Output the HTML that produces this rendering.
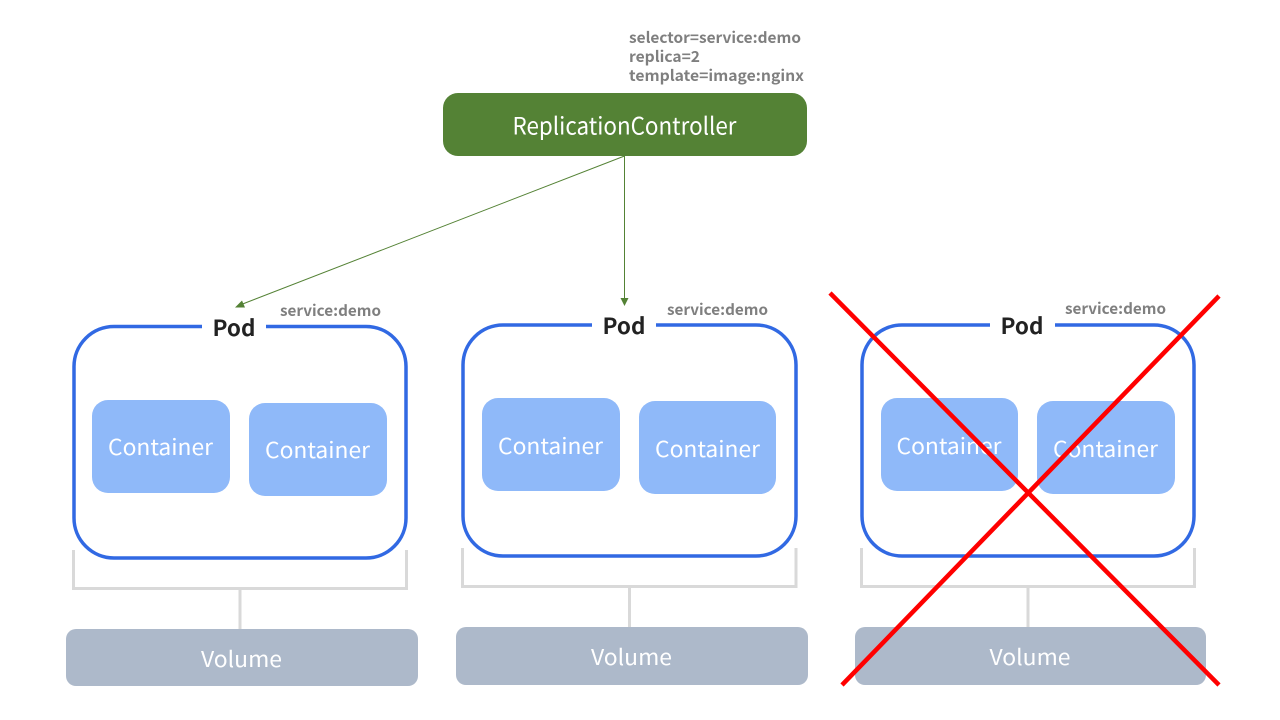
<!DOCTYPE html>
<html>
<head>
<meta charset="utf-8">
<style>
html,body{margin:0;padding:0;background:#fff;width:1280px;height:720px;overflow:hidden}
svg{display:block}
text{font-family:"Noto Sans CJK KR","Liberation Sans",sans-serif}
.meta{font-size:15px;font-weight:700;fill:#7f7f7f}
.pod{font-size:22px;font-weight:700;fill:#222;text-anchor:middle}
.c{font-size:22px;fill:#fff;text-anchor:middle}
.v{font-size:22px;fill:#fff;text-anchor:middle}
.b{fill:none;stroke:#d9d9d9;stroke-width:3}
.p{fill:none;stroke:#3169e3;stroke-width:3.5}
</style>
</head>
<body>
<svg width="1280" height="720" viewBox="0 0 1280 720" xmlns="http://www.w3.org/2000/svg">
<rect width="1280" height="720" fill="#fff"/>

<text class="meta" x="629" y="43" textLength="172" lengthAdjust="spacingAndGlyphs">selector=service:demo</text>
<text class="meta" x="629" y="62" textLength="71" lengthAdjust="spacingAndGlyphs">replica=2</text>
<text class="meta" x="629" y="81" textLength="175" lengthAdjust="spacingAndGlyphs">template=image:nginx</text>

<rect x="443" y="93" width="364" height="63" rx="15" fill="#548235"/>
<text x="624.5" y="134.500" font-size="24" fill="#fff" text-anchor="middle" textLength="224" lengthAdjust="spacingAndGlyphs">ReplicationController</text>

<line x1="624.5" y1="156" x2="240" y2="305" stroke="#548235" stroke-width="1"/>
<polygon points="235,307.5 242,300.5 245,307.5" fill="#548235"/>
<line x1="624.5" y1="156" x2="624.5" y2="299" stroke="#548235" stroke-width="1"/>
<polygon points="624.5,306 620.5,298 628.5,298" fill="#548235"/>

<!-- Pod 1 -->
<path class="p" d="M202 326.5H114a40 40 0 0 0-40 40V518a40 40 0 0 0 40 40H366a40 40 0 0 0 40-40V366.500a40 40 0 0 0-40-40H266"/>
<text class="pod" x="234" y="336" textLength="43" lengthAdjust="spacingAndGlyphs">Pod</text>
<text class="meta" x="280" y="316" textLength="101" lengthAdjust="spacingAndGlyphs">service:demo</text>
<rect x="92" y="400" width="138" height="93" rx="16" fill="#8fb9f9"/>
<text class="c" x="160.500" y="455" textLength="105" lengthAdjust="spacingAndGlyphs">Container</text>
<rect x="249" y="403" width="138" height="93" rx="16" fill="#8fb9f9"/>
<text class="c" x="317.500" y="458" textLength="105" lengthAdjust="spacingAndGlyphs">Container</text>
<path class="b" d="M73.500 550V588.500H406.500V550M240 588.500V629"/>
<rect x="66" y="629" width="352" height="57" rx="10" fill="#adb9ca"/>
<text class="v" x="241.500" y="667" textLength="81" lengthAdjust="spacingAndGlyphs">Volume</text>

<!-- Pod 2 -->
<path class="p" d="M592 325H503a40 40 0 0 0-40 40V516a40 40 0 0 0 40 40H756a40 40 0 0 0 40-40V365a40 40 0 0 0-40-40H656"/>
<text class="pod" x="624" y="334" textLength="43" lengthAdjust="spacingAndGlyphs">Pod</text>
<text class="meta" x="667" y="315" textLength="101" lengthAdjust="spacingAndGlyphs">service:demo</text>
<rect x="482" y="398" width="138" height="93" rx="16" fill="#8fb9f9"/>
<text class="c" x="550.500" y="454" textLength="105" lengthAdjust="spacingAndGlyphs">Container</text>
<rect x="639" y="401" width="137" height="93" rx="16" fill="#8fb9f9"/>
<text class="c" x="707.500" y="457" textLength="105" lengthAdjust="spacingAndGlyphs">Container</text>
<path class="b" d="M462.500 548V586.500H796V548M629.500 586.500V627"/>
<rect x="456" y="627" width="352" height="58" rx="10" fill="#adb9ca"/>
<text class="v" x="631.500" y="665" textLength="81" lengthAdjust="spacingAndGlyphs">Volume</text>

<!-- Pod 3 -->
<path class="p" d="M990 325H902a40 40 0 0 0-40 40V516a40 40 0 0 0 40 40H1154a40 40 0 0 0 40-40V365a40 40 0 0 0-40-40H1055"/>
<text class="pod" x="1022" y="334" textLength="43" lengthAdjust="spacingAndGlyphs">Pod</text>
<text class="meta" x="1065" y="314" textLength="101" lengthAdjust="spacingAndGlyphs">service:demo</text>
<rect x="881" y="398" width="137" height="93" rx="16" fill="#8fb9f9"/>
<text class="c" x="949" y="454" textLength="105" lengthAdjust="spacingAndGlyphs">Container</text>
<rect x="1037" y="401" width="138" height="93" rx="16" fill="#8fb9f9"/>
<text class="c" x="1105.500" y="457" textLength="105" lengthAdjust="spacingAndGlyphs">Container</text>
<path class="b" d="M861.500 548V586.500H1194.500V548M1028 586.500V627"/>
<rect x="855" y="627" width="351" height="58" rx="10" fill="#adb9ca"/>
<text class="v" x="1030" y="665" textLength="81" lengthAdjust="spacingAndGlyphs">Volume</text>

<!-- Red X -->
<line x1="830" y1="293" x2="1219" y2="685" stroke="#ff0000" stroke-width="4.5"/>
<line x1="1219" y1="296" x2="842" y2="685" stroke="#ff0000" stroke-width="4.5"/>
</svg>
</body>
</html>
